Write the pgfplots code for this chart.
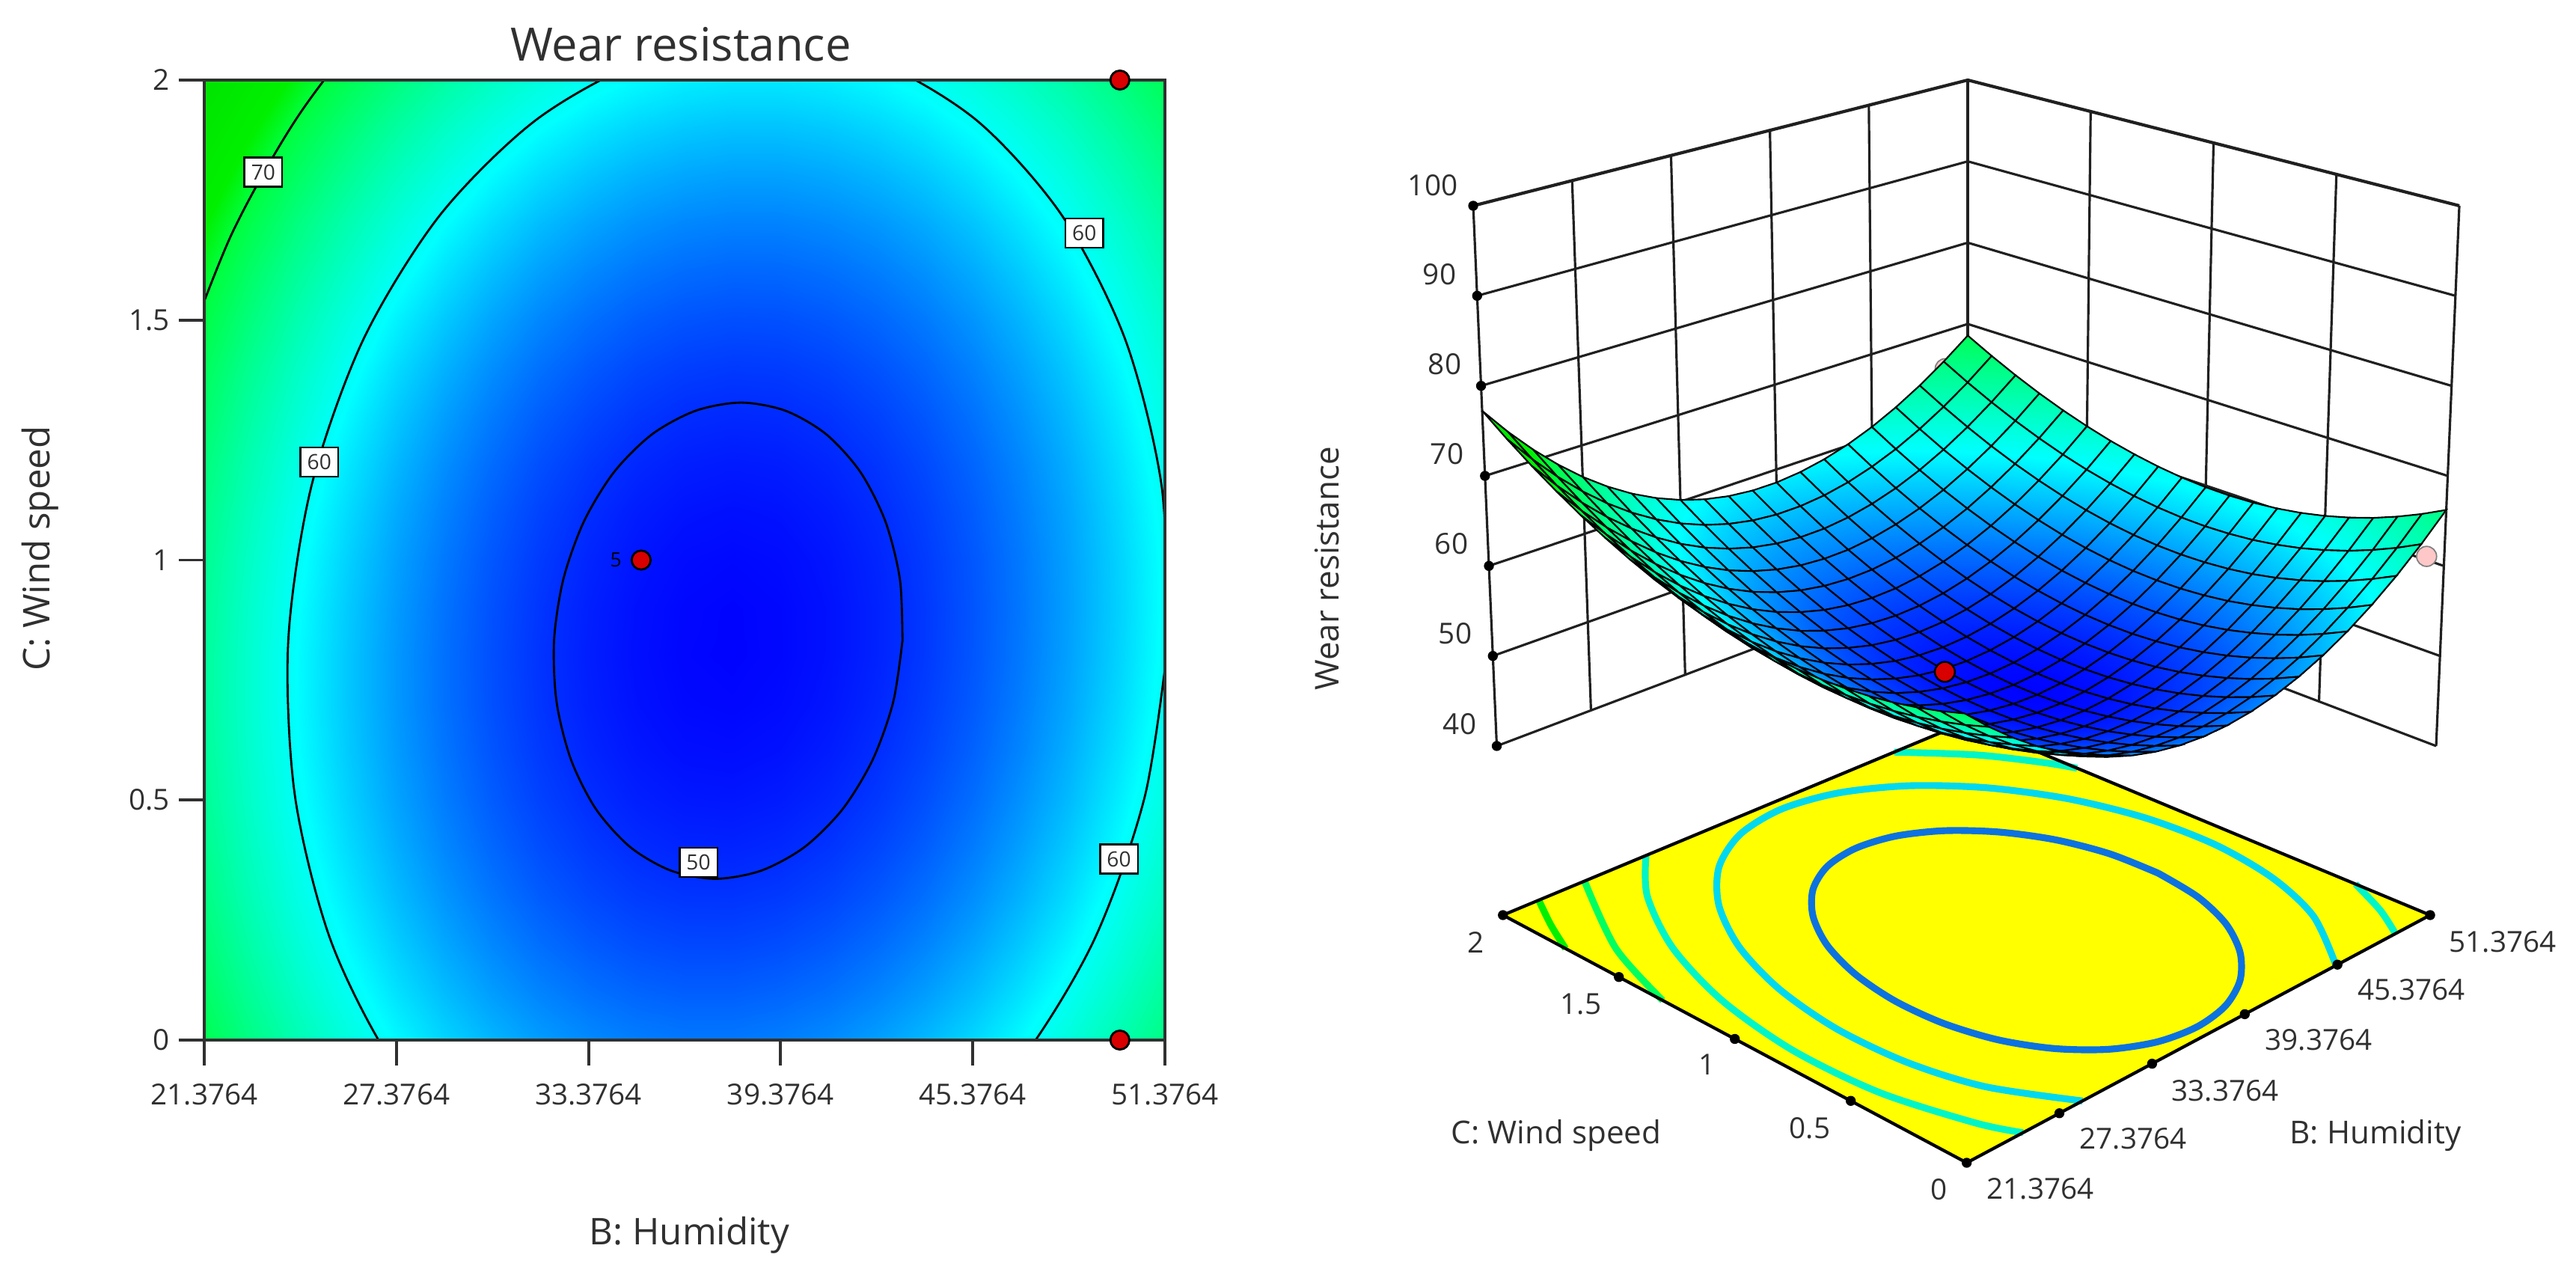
\documentclass[border=0pt]{standalone}
\usepackage{fontspec}
\setmainfont{Open Sans}
\usepackage{pgfplots}
\usepackage{pgfplotstable}
\pgfplotsset{compat=1.18}
\definecolor{ink}{HTML}{303030}
\definecolor{wall}{HTML}{202020}
\definecolor{dotred}{HTML}{D80000}
\definecolor{palered}{HTML}{FFC8C8}
\definecolor{baseyellow}{HTML}{FFFF00}
\definecolor{lev1}{HTML}{0C72E0}
\definecolor{lev2}{HTML}{00D8F0}
\definecolor{lev3}{HTML}{00F5C8}
\definecolor{lev4}{HTML}{00FF60}
\definecolor{lev5}{HTML}{00F000}
\newcommand{\fs}[1]{\fontsize{#1}{#1}\selectfont}

% surface: response on a 21 x 21 grid, from the far corner to the near one
\pgfplotstableread{
B C Z
51.3764 2 68.58
49.8764 2 66.33
48.3764 2 64.36
46.8764 2 62.67
45.3764 2 61.26
43.8764 2 60.14
42.3764 2 59.31
40.8764 2 58.75
39.3764 2 58.47
37.8764 2 58.48
36.3764 2 58.77
34.8764 2 59.34
33.3764 2 60.20
31.8764 2 61.34
30.3764 2 62.76
28.8764 2 64.47
27.3764 2 66.45
25.8764 2 68.72
24.3764 2 71.27
22.8764 2 74.10
21.3764 2 77.23
51.3764 1.9 67.02
49.8764 1.9 64.75
48.3764 1.9 62.77
46.8764 1.9 61.07
45.3764 1.9 59.64
43.8764 1.9 58.51
42.3764 1.9 57.65
40.8764 1.9 57.08
39.3764 1.9 56.79
37.8764 1.9 56.78
36.3764 1.9 57.06
34.8764 1.9 57.62
33.3764 1.9 58.46
31.8764 1.9 59.58
30.3764 1.9 60.99
28.8764 1.9 62.68
27.3764 1.9 64.65
25.8764 1.9 66.91
24.3764 1.9 69.44
22.8764 1.9 72.26
21.3764 1.9 75.36
51.3764 1.8 65.61
49.8764 1.8 63.33
48.3764 1.8 61.33
46.8764 1.8 59.61
45.3764 1.8 58.17
43.8764 1.8 57.02
42.3764 1.8 56.16
40.8764 1.8 55.57
39.3764 1.8 55.26
37.8764 1.8 55.24
36.3764 1.8 55.50
34.8764 1.8 56.04
33.3764 1.8 56.87
31.8764 1.8 57.97
30.3764 1.8 59.37
28.8764 1.8 61.05
27.3764 1.8 63.00
25.8764 1.8 65.24
24.3764 1.8 67.76
22.8764 1.8 70.56
21.3764 1.8 73.65
51.3764 1.7 64.35
49.8764 1.7 62.06
48.3764 1.7 60.04
46.8764 1.7 58.31
45.3764 1.7 56.85
43.8764 1.7 55.69
42.3764 1.7 54.81
40.8764 1.7 54.21
39.3764 1.7 53.88
37.8764 1.7 53.85
36.3764 1.7 54.09
34.8764 1.7 54.62
33.3764 1.7 55.44
31.8764 1.7 56.52
30.3764 1.7 57.90
28.8764 1.7 59.56
27.3764 1.7 61.50
25.8764 1.7 63.73
24.3764 1.7 66.23
22.8764 1.7 69.02
21.3764 1.7 72.10
51.3764 1.6 63.25
49.8764 1.6 60.94
48.3764 1.6 58.91
46.8764 1.6 57.16
45.3764 1.6 55.69
43.8764 1.6 54.51
42.3764 1.6 53.61
40.8764 1.6 53.00
39.3764 1.6 52.66
37.8764 1.6 52.61
36.3764 1.6 52.84
34.8764 1.6 53.35
33.3764 1.6 54.15
31.8764 1.6 55.22
30.3764 1.6 56.58
28.8764 1.6 58.23
27.3764 1.6 60.16
25.8764 1.6 62.37
24.3764 1.6 64.86
22.8764 1.6 67.63
21.3764 1.6 70.69
51.3764 1.5 62.30
49.8764 1.5 59.97
48.3764 1.5 57.93
46.8764 1.5 56.16
45.3764 1.5 54.68
43.8764 1.5 53.48
42.3764 1.5 52.57
40.8764 1.5 51.94
39.3764 1.5 51.58
37.8764 1.5 51.52
36.3764 1.5 51.74
34.8764 1.5 52.23
33.3764 1.5 53.02
31.8764 1.5 54.07
30.3764 1.5 55.42
28.8764 1.5 57.06
27.3764 1.5 58.96
25.8764 1.5 61.16
24.3764 1.5 63.63
22.8764 1.5 66.39
21.3764 1.5 69.44
51.3764 1.4 61.49
49.8764 1.4 59.15
48.3764 1.4 57.10
46.8764 1.4 55.32
45.3764 1.4 53.82
43.8764 1.4 52.61
42.3764 1.4 51.68
40.8764 1.4 51.03
39.3764 1.4 50.66
37.8764 1.4 50.58
36.3764 1.4 50.78
34.8764 1.4 51.26
33.3764 1.4 52.04
31.8764 1.4 53.08
30.3764 1.4 54.41
28.8764 1.4 56.03
27.3764 1.4 57.92
25.8764 1.4 60.10
24.3764 1.4 62.56
22.8764 1.4 65.30
21.3764 1.4 68.33
51.3764 1.3 60.85
49.8764 1.3 58.49
48.3764 1.3 56.42
46.8764 1.3 54.62
45.3764 1.3 53.11
43.8764 1.3 51.88
42.3764 1.3 50.94
40.8764 1.3 50.28
39.3764 1.3 49.89
37.8764 1.3 49.80
36.3764 1.3 49.98
34.8764 1.3 50.45
33.3764 1.3 51.21
31.8764 1.3 52.23
30.3764 1.3 53.55
28.8764 1.3 55.15
27.3764 1.3 57.03
25.8764 1.3 59.20
24.3764 1.3 61.64
22.8764 1.3 64.36
21.3764 1.3 67.38
51.3764 1.2 60.35
49.8764 1.2 57.98
48.3764 1.2 55.89
46.8764 1.2 54.08
45.3764 1.2 52.55
43.8764 1.2 51.31
42.3764 1.2 50.35
40.8764 1.2 49.67
39.3764 1.2 49.27
37.8764 1.2 49.16
36.3764 1.2 49.33
34.8764 1.2 49.78
33.3764 1.2 50.53
31.8764 1.2 51.54
30.3764 1.2 52.84
28.8764 1.2 54.43
27.3764 1.2 56.29
25.8764 1.2 58.44
24.3764 1.2 60.87
22.8764 1.2 63.58
21.3764 1.2 66.58
51.3764 1.1 60.00
49.8764 1.1 57.62
48.3764 1.1 55.51
46.8764 1.1 53.69
45.3764 1.1 52.15
43.8764 1.1 50.89
42.3764 1.1 49.91
40.8764 1.1 49.22
39.3764 1.1 48.81
37.8764 1.1 48.68
36.3764 1.1 48.84
34.8764 1.1 49.27
33.3764 1.1 50.00
31.8764 1.1 51.00
30.3764 1.1 52.28
28.8764 1.1 53.86
27.3764 1.1 55.71
25.8764 1.1 57.84
24.3764 1.1 60.26
22.8764 1.1 62.95
21.3764 1.1 65.93
51.3764 1 59.81
49.8764 1 57.41
48.3764 1 55.29
46.8764 1 53.45
45.3764 1 51.89
43.8764 1 50.62
42.3764 1 49.63
40.8764 1 48.92
39.3764 1 48.49
37.8764 1 48.35
36.3764 1 48.49
34.8764 1 48.91
33.3764 1 49.63
31.8764 1 50.61
30.3764 1 51.88
28.8764 1 53.44
27.3764 1 55.27
25.8764 1 57.39
24.3764 1 59.79
22.8764 1 62.47
21.3764 1 65.44
51.3764 0.9 59.77
49.8764 0.9 57.35
48.3764 0.9 55.22
46.8764 0.9 53.37
45.3764 0.9 51.79
43.8764 0.9 50.50
42.3764 0.9 49.50
40.8764 0.9 48.77
39.3764 0.9 48.33
37.8764 0.9 48.17
36.3764 0.9 48.30
34.8764 0.9 48.71
33.3764 0.9 49.40
31.8764 0.9 50.37
30.3764 0.9 51.63
28.8764 0.9 53.17
27.3764 0.9 54.99
25.8764 0.9 57.10
24.3764 0.9 59.48
22.8764 0.9 62.14
21.3764 0.9 65.10
51.3764 0.8 59.88
49.8764 0.8 57.45
48.3764 0.8 55.30
46.8764 0.8 53.43
45.3764 0.8 51.84
43.8764 0.8 50.53
42.3764 0.8 49.52
40.8764 0.8 48.78
39.3764 0.8 48.32
37.8764 0.8 48.15
36.3764 0.8 48.26
34.8764 0.8 48.65
33.3764 0.8 49.33
31.8764 0.8 50.28
30.3764 0.8 51.53
28.8764 0.8 53.06
27.3764 0.8 54.86
25.8764 0.8 56.95
24.3764 0.8 59.32
22.8764 0.8 61.96
21.3764 0.8 64.90
51.3764 0.7 60.14
49.8764 0.7 57.69
48.3764 0.7 55.53
46.8764 0.7 53.65
45.3764 0.7 52.04
43.8764 0.7 50.72
42.3764 0.7 49.69
40.8764 0.7 48.93
39.3764 0.7 48.46
37.8764 0.7 48.27
36.3764 0.7 48.37
34.8764 0.7 48.75
33.3764 0.7 49.41
31.8764 0.7 50.35
30.3764 0.7 51.58
28.8764 0.7 53.09
27.3764 0.7 54.88
25.8764 0.7 56.96
24.3764 0.7 59.31
22.8764 0.7 61.94
21.3764 0.7 64.86
51.3764 0.6 60.55
49.8764 0.6 58.09
48.3764 0.6 55.91
46.8764 0.6 54.01
45.3764 0.6 52.39
43.8764 0.6 51.06
42.3764 0.6 50.01
40.8764 0.6 49.24
39.3764 0.6 48.75
37.8764 0.6 48.55
36.3764 0.6 48.63
34.8764 0.6 48.99
33.3764 0.6 49.64
31.8764 0.6 50.57
30.3764 0.6 51.78
28.8764 0.6 53.28
27.3764 0.6 55.05
25.8764 0.6 57.11
24.3764 0.6 59.45
22.8764 0.6 62.06
21.3764 0.6 64.97
51.3764 0.5 61.12
49.8764 0.5 58.64
48.3764 0.5 56.45
46.8764 0.5 54.54
45.3764 0.5 52.90
43.8764 0.5 51.55
42.3764 0.5 50.48
40.8764 0.5 49.70
39.3764 0.5 49.19
37.8764 0.5 48.98
36.3764 0.5 49.05
34.8764 0.5 49.39
33.3764 0.5 50.03
31.8764 0.5 50.94
30.3764 0.5 52.13
28.8764 0.5 53.62
27.3764 0.5 55.37
25.8764 0.5 57.42
24.3764 0.5 59.75
22.8764 0.5 62.34
21.3764 0.5 65.24
51.3764 0.4 61.84
49.8764 0.4 59.35
48.3764 0.4 57.14
46.8764 0.4 55.21
45.3764 0.4 53.56
43.8764 0.4 52.19
42.3764 0.4 51.11
40.8764 0.4 50.31
39.3764 0.4 49.79
37.8764 0.4 49.56
36.3764 0.4 49.61
34.8764 0.4 49.94
33.3764 0.4 50.57
31.8764 0.4 51.46
30.3764 0.4 52.64
28.8764 0.4 54.11
27.3764 0.4 55.85
25.8764 0.4 57.88
24.3764 0.4 60.19
22.8764 0.4 62.77
21.3764 0.4 65.65
51.3764 0.3 62.70
49.8764 0.3 60.20
48.3764 0.3 57.98
46.8764 0.3 56.03
45.3764 0.3 54.37
43.8764 0.3 52.98
42.3764 0.3 51.89
40.8764 0.3 51.07
39.3764 0.3 50.54
37.8764 0.3 50.30
36.3764 0.3 50.33
34.8764 0.3 50.65
33.3764 0.3 51.25
31.8764 0.3 52.13
30.3764 0.3 53.30
28.8764 0.3 54.75
27.3764 0.3 56.48
25.8764 0.3 58.50
24.3764 0.3 60.79
22.8764 0.3 63.35
21.3764 0.3 66.22
51.3764 0.2 63.73
49.8764 0.2 61.21
48.3764 0.2 58.97
46.8764 0.2 57.01
45.3764 0.2 55.33
43.8764 0.2 53.93
42.3764 0.2 52.82
40.8764 0.2 51.99
39.3764 0.2 51.44
37.8764 0.2 51.18
36.3764 0.2 51.20
34.8764 0.2 51.50
33.3764 0.2 52.09
31.8764 0.2 52.96
30.3764 0.2 54.11
28.8764 0.2 55.55
27.3764 0.2 57.26
25.8764 0.2 59.26
24.3764 0.2 61.54
22.8764 0.2 64.09
21.3764 0.2 66.94
51.3764 0.1 64.90
49.8764 0.1 62.36
48.3764 0.1 60.11
46.8764 0.1 58.13
45.3764 0.1 56.44
43.8764 0.1 55.02
42.3764 0.1 53.90
40.8764 0.1 53.05
39.3764 0.1 52.49
37.8764 0.1 52.22
36.3764 0.1 52.22
34.8764 0.1 52.51
33.3764 0.1 53.08
31.8764 0.1 53.93
30.3764 0.1 55.07
28.8764 0.1 56.49
27.3764 0.1 58.19
25.8764 0.1 60.18
24.3764 0.1 62.44
22.8764 0.1 64.97
21.3764 0.1 67.81
51.3764 0 66.22
49.8764 0 63.67
48.3764 0 61.40
46.8764 0 59.41
45.3764 0 57.70
43.8764 0 56.28
42.3764 0 55.14
40.8764 0 54.28
39.3764 0 53.70
37.8764 0 53.41
36.3764 0 53.40
34.8764 0 53.67
33.3764 0 54.23
31.8764 0 55.06
30.3764 0 56.18
28.8764 0 57.59
27.3764 0 59.27
25.8764 0 61.24
24.3764 0 63.49
22.8764 0 66.02
21.3764 0 68.84
}\surfdata

% view used on the right: pixel position of a point of the box and of the base
\pgfmathdeclarefunction{boxx}{3}{\pgfmathparse{(1-#1)*(1-#2)*2626+#1*(1-#2)*(3256+31*#3)+(1-#1)*#2*(2000.5-31.5*#3)+#1*#2*2630}}
\pgfmathdeclarefunction{boxy}{3}{\pgfmathparse{1711-((1-#1)*(1-#2)*(1290-700*#3)+#1*(1-#2)*(997-722*#3)+(1-#1)*#2*(997-722*#3)+#1*#2*(759-652*#3))}}
\pgfmathdeclarefunction{basex}{2}{\pgfmathparse{(1-#1)*(1-#2)*2628.6+#1*(1-#2)*3248+(1-#1)*#2*2008.7+#1*#2*2628}}
\pgfmathdeclarefunction{basey}{2}{\pgfmathparse{1711-((1-#1)*(1-#2)*1554+#1*(1-#2)*1223+(1-#1)*#2*1223+#1*#2*965)}}
\pgfplotsset{
  table/box/.style={
    x expr={boxx((\thisrow{B}-21.3764)/30,\thisrow{C}/2,(\thisrow{Z}-40)/60)},
    y expr={boxy((\thisrow{B}-21.3764)/30,\thisrow{C}/2,(\thisrow{Z}-40)/60)}},
  table/base/.style={
    x expr={basex((\thisrow{B}-21.3764)/30,\thisrow{C}/2)},
    y expr={basey((\thisrow{B}-21.3764)/30,\thisrow{C}/2)}},
  de map/.style={
    colormap={de}{rgb255(0)=(0,0,255) rgb255(115)=(0,255,255) rgb255(220)=(0,255,60) rgb255(240)=(0,240,0) rgb255(300)=(0,225,0)},
    point meta min=48, point meta max=78},
  box line/.style={color=wall,line width=0.9pt},
  base line/.style={line width=2.6pt,smooth,line cap=butt},
}
\tikzset{
  clabel/.style={draw=black,fill=white,line width=0.7pt,font=\fs{8},text=ink,inner sep=2.6pt},
  rlabel/.style={font=\fs{11},text=ink},
}

\begin{document}
\begin{tikzpicture}
\path[use as bounding box] (0,0) rectangle (34.43,17.11);

% left: contour plot
\begin{axis}[
  at={(2.73cm,3.21cm)}, anchor=south west,
  scale only axis, width=12.84cm, height=12.83cm,
  de map, axis on top,
  xmin=21.3764, xmax=51.3764, ymin=0, ymax=2,
  xtick={21.3764,27.3764,33.3764,39.3764,45.3764,51.3764},
  xticklabels={21.3764,27.3764,33.3764,39.3764,45.3764,51.3764},
  ytick={0,0.5,1,1.5,2},
  yticklabels={0,0.5,1,1.5,2},
  xtick pos=bottom, ytick pos=left, tick align=outside,
  major tick length=0.34cm,
  tick style={color=ink,line width=1.1pt},
  axis line style={color=ink,line width=1.1pt},
  tick label style={font=\fs{11},text=ink},
  xticklabel shift=0.12cm,
  title={Wear resistance},
  title style={font=\fs{17.5},text=ink,at={(axis description cs:0.496,1.037)},anchor=center,yshift=-6pt},
  xlabel={B: Humidity},
  xlabel style={font=\fs{14},text=ink,at={(axis description cs:0.505,-0.203)},anchor=center},
  ylabel={C: Wind speed},
  ylabel style={font=\fs{14},text=ink,at={(axis description cs:-0.171,0.512)},anchor=center},
]
\addplot[surf,shader=interp,mesh/rows=21,point meta=\thisrow{Z}] table[x=B,y=C] {\surfdata};
% level 50
\addplot[black,line width=0.8pt,smooth] coordinates {
 (43.18,0.832) (43.10,0.960) (42.65,1.080) (41.87,1.183) (40.80,1.262) (39.53,1.311) (38.14,1.328)
 (36.72,1.311) (35.36,1.262) (34.17,1.183) (33.23,1.080) (32.59,0.960) (32.30,0.832) (32.38,0.704)
 (32.83,0.584) (33.61,0.481) (34.68,0.402) (35.95,0.353) (37.34,0.336) (38.77,0.353) (40.12,0.402)
 (41.31,0.481) (42.25,0.584) (42.89,0.704) (43.18,0.832)};
% level 60
\addplot[black,line width=0.8pt,smooth] coordinates {
 (51.48,0.832) (51.27,1.156) (50.14,1.459) (48.16,1.718) (45.48,1.917) (42.26,2.042) (38.74,2.085)
 (35.15,2.042) (31.74,1.917) (28.73,1.718) (26.34,1.459) (24.73,1.156) (24.00,0.832) (24.21,0.508)
 (25.34,0.205) (27.32,-0.054) (30.00,-0.253) (33.22,-0.378) (36.74,-0.421) (40.33,-0.378) (43.74,-0.253)
 (46.75,-0.054) (49.14,0.205) (50.75,0.508) (51.48,0.832)};
% level 70
\addplot[black,line width=0.8pt,smooth] coordinates {
 (29.59,2.306) (26.79,2.135) (24.32,1.926) (22.26,1.683) (20.67,1.414)};
\node[clabel] at (axis cs:23.22,1.808) {70};
\node[clabel] at (axis cs:24.97,1.204) {60};
\node[clabel] at (axis cs:36.81,0.370) {50};
\node[clabel] at (axis cs:48.86,1.681) {60};
\node[clabel] at (axis cs:49.94,0.377) {60};
\end{axis}

% left: design points, over the frame
\begin{axis}[
  at={(2.73cm,3.21cm)}, anchor=south west,
  scale only axis, width=12.84cm, height=12.83cm,
  hide axis, clip=false,
  xmin=21.3764, xmax=51.3764, ymin=0, ymax=2,
]
\addplot[only marks,mark=*,mark size=3.6pt,mark options={fill=dotred,draw=black,line width=0.8pt}] coordinates {
 (35.02,1) (49.97,2) (49.97,0)};
\node[font=\fs{7.5},text=black] at (axis cs:34.23,1) {5};
\end{axis}

% right: surface in a box, with the contours on the base
\begin{axis}[
  at={(0,0)}, anchor=south west,
  scale only axis, width=34.43cm, height=17.11cm,
  hide axis, clip=false, clip marker paths=true, de map,
  xmin=0, xmax=3443, ymin=0, ymax=1711,
]
% walls
\pgfplotsinvokeforeach{40,50,60,70,80,90}{
  \addplot[box line] table[row sep=\\,box] {B C Z\\ 21.3764 2 #1\\ 51.3764 2 #1\\ 51.3764 0 #1\\};
}
\addplot[box line,line width=1.2pt] table[row sep=\\,box] {B C Z\\ 21.3764 2 100\\ 51.3764 2 100\\ 51.3764 0 100\\};
\pgfplotsinvokeforeach{21.3764,27.3764,33.3764,39.3764,45.3764,51.3764}{
  \addplot[box line] table[row sep=\\,box] {B C Z\\ #1 2 40\\ #1 2 100\\};
}
\pgfplotsinvokeforeach{0,0.5,1,1.5}{
  \addplot[box line] table[row sep=\\,box] {B C Z\\ 51.3764 #1 40\\ 51.3764 #1 100\\};
}
\addplot[only marks,mark=*,mark size=1.7pt,black] table[box] {
B C Z
21.3764 2 40
21.3764 2 50
21.3764 2 60
21.3764 2 70
21.3764 2 80
21.3764 2 90
21.3764 2 100
};
% base
\addplot[fill=baseyellow,draw=none] table[base] {
B C
21.3764 0
51.3764 0
51.3764 2
21.3764 2
21.3764 0
};
\addplot[base line,lev1] table[base] {
B C
46.26 0.832
46.13 1.033
45.43 1.221
44.20 1.381
42.54 1.505
40.55 1.583
38.36 1.609
36.13 1.583
34.02 1.505
32.16 1.381
30.67 1.221
29.67 1.033
29.22 0.832
29.35 0.631
30.05 0.443
31.28 0.283
32.94 0.159
34.93 0.081
37.12 0.055
39.35 0.081
41.46 0.159
43.32 0.283
44.81 0.443
45.81 0.631
46.26 0.832
};
\addplot[base line,lev2] table[base] {
B C
45.28 0
47.92 0.272
49.36 0.542
50.01 0.832
49.82 1.122
48.81 1.392
47.05 1.623
44.65 1.801
41.78 1.913
38.64 1.951
35.43 1.913
32.38 1.801
29.70 1.623
27.56 1.392
26.12 1.122
25.47 0.832
25.66 0.542
26.67 0.272
28.87 0
};
\addplot[base line,lev3] table[base] {
B C
30.64 2
27.83 1.807
25.20 1.522
23.42 1.189
22.62 0.832
22.85 0.475
24.10 0.142
25.02 0
};
\addplot[base line,lev3] table[base] {
B C
51.3764 0.322
50.28 0.142
49.13 0
};
\addplot[base line,lev3] table[base] {
B C
46.71 2
49.21 1.807
50.76 1.623
51.3764 1.522
};
\addplot[base line,lev4] table[base] {
B C
26.66 2
23.17 1.632
21.3764 1.311
};
\addplot[base line,lev5] table[base] {
B C
23.70 2
22.43 1.863
21.3764 1.73
};
\addplot[draw=black,line width=1.2pt,line join=round] table[base] {
B C
21.3764 0
51.3764 0
51.3764 2
21.3764 2
21.3764 0
};
\addplot[only marks,mark=*,mark size=1.7pt,black] table[base] {
B C
21.3764 2
21.3764 1.5
21.3764 1
21.3764 0.5
21.3764 0
27.3764 0
33.3764 0
39.3764 0
45.3764 0
51.3764 0
};
% design points below the surface
\addplot[only marks,mark=*,mark size=3.8pt,mark options={fill=palered,draw=gray,line width=0.5pt}] table[box] {
B C Z
49.97 2 65.4
50.25 0 62
};
% surface, painted back to front
\addplot[surf,shader=faceted interp,faceted color=black,line width=0.6pt,z buffer=none,mesh/rows=21,point meta=\thisrow{Z}] table[box] {\surfdata};
% design point above the surface
\addplot[only marks,mark=*,mark size=3.8pt,mark options={fill=dotred,draw=black,line width=0.7pt}] table[box] {
B C Z
35.02 1 50.7
};
% labels of the right panel, by their place on the picture
\node[rlabel] at (axis cs:1915,1463) {100};
\node[rlabel] at (axis cs:1924,1344) {90};
\node[rlabel] at (axis cs:1931,1224) {80};
\node[rlabel] at (axis cs:1934,1104) {70};
\node[rlabel] at (axis cs:1940,984) {60};
\node[rlabel] at (axis cs:1945,864) {50};
\node[rlabel] at (axis cs:1951,743) {40};
\node[font=\fs{12.5},text=ink,rotate=90] at (axis cs:1774,951) {Wear resistance};
\node[rlabel] at (axis cs:1973,451) {2};
\node[rlabel] at (axis cs:2113,369) {1.5};
\node[rlabel] at (axis cs:2282,288) {1};
\node[rlabel] at (axis cs:2419,203) {0.5};
\node[rlabel] at (axis cs:2591,121) {0};
\node[font=\fs{12},text=ink] at (axis cs:2080,193) {C: Wind speed};
\node[rlabel] at (axis cs:2727,122) {21.3764};
\node[rlabel] at (axis cs:2851,189) {27.3764};
\node[rlabel] at (axis cs:2974,253) {33.3764};
\node[rlabel] at (axis cs:3099,321) {39.3764};
\node[rlabel] at (axis cs:3223,388) {45.3764};
\node[rlabel] at (axis cs:3345,452) {51.3764};
\node[font=\fs{12},text=ink] at (axis cs:3175,193) {B: Humidity};
\end{axis}
\end{tikzpicture}
\end{document}
